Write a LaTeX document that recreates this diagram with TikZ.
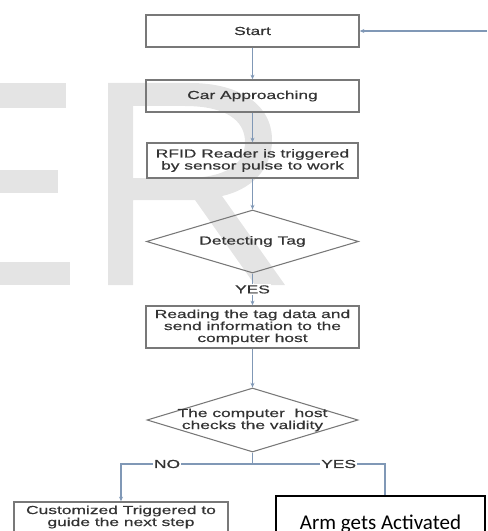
\documentclass[tikz,border=0pt]{standalone}
\usepackage{fontspec}
\newfontfamily\flowfont[FakeStretch=1.5, FakeBold=0.6]{Liberation Sans}
\newfontfamily\armfont{Carlito}
\usetikzlibrary{shapes.geometric,arrows.meta}
\definecolor{lineblue}{RGB}{128,152,182}
\definecolor{boxgray}{RGB}{120,120,120}
\definecolor{markgray}{RGB}{228,228,228}
\tikzset{
	processbox/.style={draw=boxgray, line width=1.1pt, inner sep=0pt, align=center, text=black!80, font=\flowfont\fontsize{8.7}{9}\selectfont},
	flowtext/.style={inner sep=1pt, text=black!80, font=\flowfont\fontsize{8.7}{9}\selectfont},
	decision/.style={diamond, draw=boxgray, line width=0.8pt, inner sep=0pt},
	flowline/.style={draw=lineblue, line width=1.1pt},
	>={Stealth[length=3.5pt,width=3pt]}
}

\begin{document}
\begin{tikzpicture}[x=0.75pt, y=-0.75pt]
			\useasboundingbox (0,0) rectangle (487,531);
			% filigrana
			\fill[markgray] (0,83) rectangle (66,108);
			\fill[markgray] (0,170) rectangle (58,193);
			\fill[markgray] (0,262) rectangle (70,285);
			\fill[markgray, even odd rule] (108,285) -- (108,83) -- (190,83) .. controls (240,83) and (272,105) .. (272,140) .. controls (272,170) and (250,190) .. (222,196) -- (285,285) -- (255,285) -- (195,200) -- (133,200) -- (133,285) -- cycle
				(133,106) -- (185,106) .. controls (225,106) and (245,120) .. (245,142) .. controls (245,165) and (225,178) .. (185,178) -- (133,178) -- cycle;
			% blocchi
			\node[processbox, minimum width=159.75pt, minimum height=24pt] (start) at (252.5,31) {Start};
			\node[processbox, minimum width=159.75pt, minimum height=24pt] (car) at (252.5,96) {Car Approaching};
			\node[processbox, minimum width=158.25pt, minimum height=26.25pt] (rfid) at (252.5,160.5) {RFID Reader is triggered\\by sensor pulse to work};
			\node[decision, minimum width=159pt, minimum height=47.25pt, label={[flowtext]center:Detecting Tag}] (detect) at (252.5,241.5) {};
			\node[processbox, minimum width=159.75pt, minimum height=31.5pt] (reading) at (252.5,327) {Reading the tag data and\\send information to the\\computer host};
			\node[decision, minimum width=158.25pt, minimum height=48pt, label={[flowtext, align=center]center:The computer\ \ host\\checks the validity}] (check) at (252.5,420) {};
			\node[processbox, minimum width=160.5pt, minimum height=22.5pt] (custom) at (121,517) {Customized Triggered to\\guide the next step};
			\node[draw=black, line width=1.2pt, minimum width=156.75pt, minimum height=42pt, font=\armfont\fontsize{15.75}{18}\selectfont] (arm) at (380.5,524) {Arm gets Activated};
			% collegamenti
			\coordinate (back) at (487,31);
			\draw[flowline, ->] (back) -- (start);
			\draw[flowline, ->] (start) -- (car);
			\draw[flowline, ->] (car) -- (rfid);
			\draw[flowline, ->] (rfid) -- (detect);
			\draw[flowline, ->] (detect) -- node[flowtext, fill=white] {YES} (reading);
			\draw[flowline, ->] (reading) -- (check);
			% diramazione
			\coordinate (split) at (252.5,464);
			\coordinate (splitleft) at (121,464);
			\coordinate (splitright) at (385,464);
			\draw[flowline] (check) -- (split);
			\draw[flowline, ->] (split) -- node[flowtext, fill=white, pos=0.65] {NO} (splitleft) -- (custom);
			\draw[flowline] (split) -- node[flowtext, fill=white, pos=0.65] {YES} (splitright) -- (arm.north -| splitright);
		\end{tikzpicture}
\end{document}
